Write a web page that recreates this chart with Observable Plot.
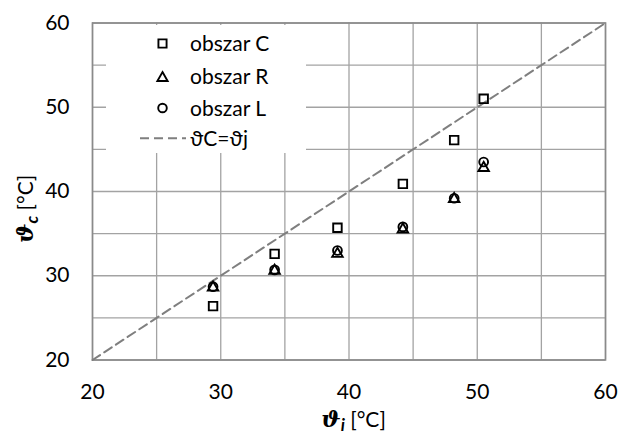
<!DOCTYPE html>
<html>
<head>
<meta charset="utf-8">
<script src="https://cdn.jsdelivr.net/npm/d3@7"></script>
<script src="https://cdn.jsdelivr.net/npm/@observablehq/plot@0.6"></script>
<style>
  html, body { margin: 0; padding: 0; background: #fff; }
  #chart svg { display: block; }
</style>
</head>
<body>
<div id="chart"></div>
<script>
// ---- data ----
const thetaI   = [29.4, 34.2, 39.1, 44.2, 48.2, 50.5];
const obszarC  = [26.4, 32.6, 35.7, 40.9, 46.1, 51.0];
const obszarR  = [28.6, 30.6, 32.6, 35.5, 39.1, 42.8];
const obszarL  = [28.7, 30.7, 33.0, 35.8, 39.2, 43.5];
const axisRange = [20, 60];
const tickLabels = [20, 30, 40, 50, 60];
const gridValues = [20, 25, 30, 35, 40, 45, 50, 55, 60];
const seriesNames = ["obszar C", "obszar R", "obszar L", "ϑC=ϑj"];

const rowsC = thetaI.map((x, i) => ({x, y: obszarC[i]}));
const rowsR = thetaI.map((x, i) => ({x, y: obszarR[i]}));
const rowsL = thetaI.map((x, i) => ({x, y: obszarL[i]}));
const identity = axisRange.map(v => ({x: v, y: v}));

const FONT = "Lato, 'DejaVu Sans', sans-serif";
const W = 618, H = 438;
const mL = 92, mR = 13, mT = 22.5, mB = 78.5;
const SW = 1.9;

const chart = Plot.plot({
  width: W, height: H,
  marginLeft: mL, marginRight: mR, marginTop: mT, marginBottom: mB,
  style: {fontFamily: FONT, fontSize: "21px", color: "#000", background: "#fff", overflow: "visible"},
  x: {domain: axisRange, label: null},
  y: {domain: axisRange, label: null},
  marks: [
    Plot.gridX(gridValues, {stroke: "#a3a3a3", strokeOpacity: 1, strokeWidth: 1.3}),
    Plot.gridY(gridValues, {stroke: "#a3a3a3", strokeOpacity: 1, strokeWidth: 1.3}),
    Plot.frame({stroke: "#8a8a8a", strokeWidth: 1.6}),
    Plot.line(identity, {x: "x", y: "y", stroke: "#7f7f7f", strokeWidth: 2, strokeDasharray: "9,5"}),
    Plot.dot(rowsC, {x: "x", y: "y", symbol: "square", r: 4.8, stroke: "#000", strokeWidth: SW, fill: "none"}),
    Plot.dot(rowsR, {x: "x", y: "y", symbol: "triangle", r: 3.9, stroke: "#000", strokeWidth: SW, fill: "none"}),
    Plot.dot(rowsL, {x: "x", y: "y", symbol: "circle", r: 4.4, stroke: "#000", strokeWidth: SW, fill: "none"}),
    Plot.axisX({ticks: tickLabels, tickSize: 0, tickPadding: 24, fontSize: 21, label: null}),
    Plot.axisY({ticks: tickLabels, tickSize: 0, tickPadding: 23, fontSize: 21, label: null})
  ]
});
document.getElementById("chart").appendChild(chart);

// ---- axis titles and legend (layout) ----
const svg = d3.select(chart);
const xs = chart.scale("x"), ys = chart.scale("y");
const plotCx = (xs.apply(axisRange[0]) + xs.apply(axisRange[1])) / 2;

const xt = svg.append("text")
  .attr("x", plotCx + 5).attr("y", 427)
  .attr("text-anchor", "middle")
  .style("font-family", FONT).style("font-size", "21px").attr("fill", "#000");
xt.append("tspan").text("ϑ").style("font-weight", "bold").style("font-family", "'DejaVu Serif', serif").style("font-style", "italic").style("font-size", "23px");
xt.append("tspan").text("i").style("font-weight", "bold").style("font-style", "italic").attr("dy", 4).style("font-size", "17px");
xt.append("tspan").text(" [°C]").attr("dy", -4);

const yt = svg.append("text")
  .attr("transform", `translate(32.5, 209) rotate(-90)`)
  .attr("text-anchor", "middle")
  .style("font-family", FONT).style("font-size", "21px").attr("fill", "#000");
yt.append("tspan").text("ϑ").style("font-weight", "bold").style("font-family", "'DejaVu Serif', serif").style("font-style", "italic").style("font-size", "23px");
yt.append("tspan").text("c").style("font-weight", "bold").style("font-style", "italic").attr("dy", 5).style("font-size", "17px");
yt.append("tspan").text(" [°C]").attr("dy", -5);

const lg = svg.append("g");
lg.append("rect").attr("x", 106).attr("y", 25).attr("width", 200).attr("height", 128).attr("fill", "#fff");
const symX = 162.5, txtX = 190;
const rowsY = [43.5, 76.8, 108, 138.3];
const syms = [d3.symbolSquare, d3.symbolTriangle, d3.symbolCircle];
const rs = [4.6, 3.8, 4.3];
syms.forEach((s, i) => {
  lg.append("path")
    .attr("d", d3.symbol(s, Math.PI * rs[i] * rs[i])())
    .attr("transform", `translate(${symX},${rowsY[i] + (i === 1 ? 1.2 : 0)})`)
    .attr("fill", "none").attr("stroke", "#000").attr("stroke-width", SW);
});
lg.append("line").attr("x1", 140).attr("x2", 186).attr("y1", rowsY[3]).attr("y2", rowsY[3])
  .attr("stroke", "#7f7f7f").attr("stroke-width", 2).attr("stroke-dasharray", "9,5");
seriesNames.forEach((t, i) => {
  lg.append("text").attr("x", txtX).attr("y", rowsY[i]).attr("dy", "0.36em")
    .attr("text-anchor", "start")
    .style("font-family", FONT).style("font-size", "21px").attr("fill", "#000").text(t);
});
</script>
</body>
</html>
